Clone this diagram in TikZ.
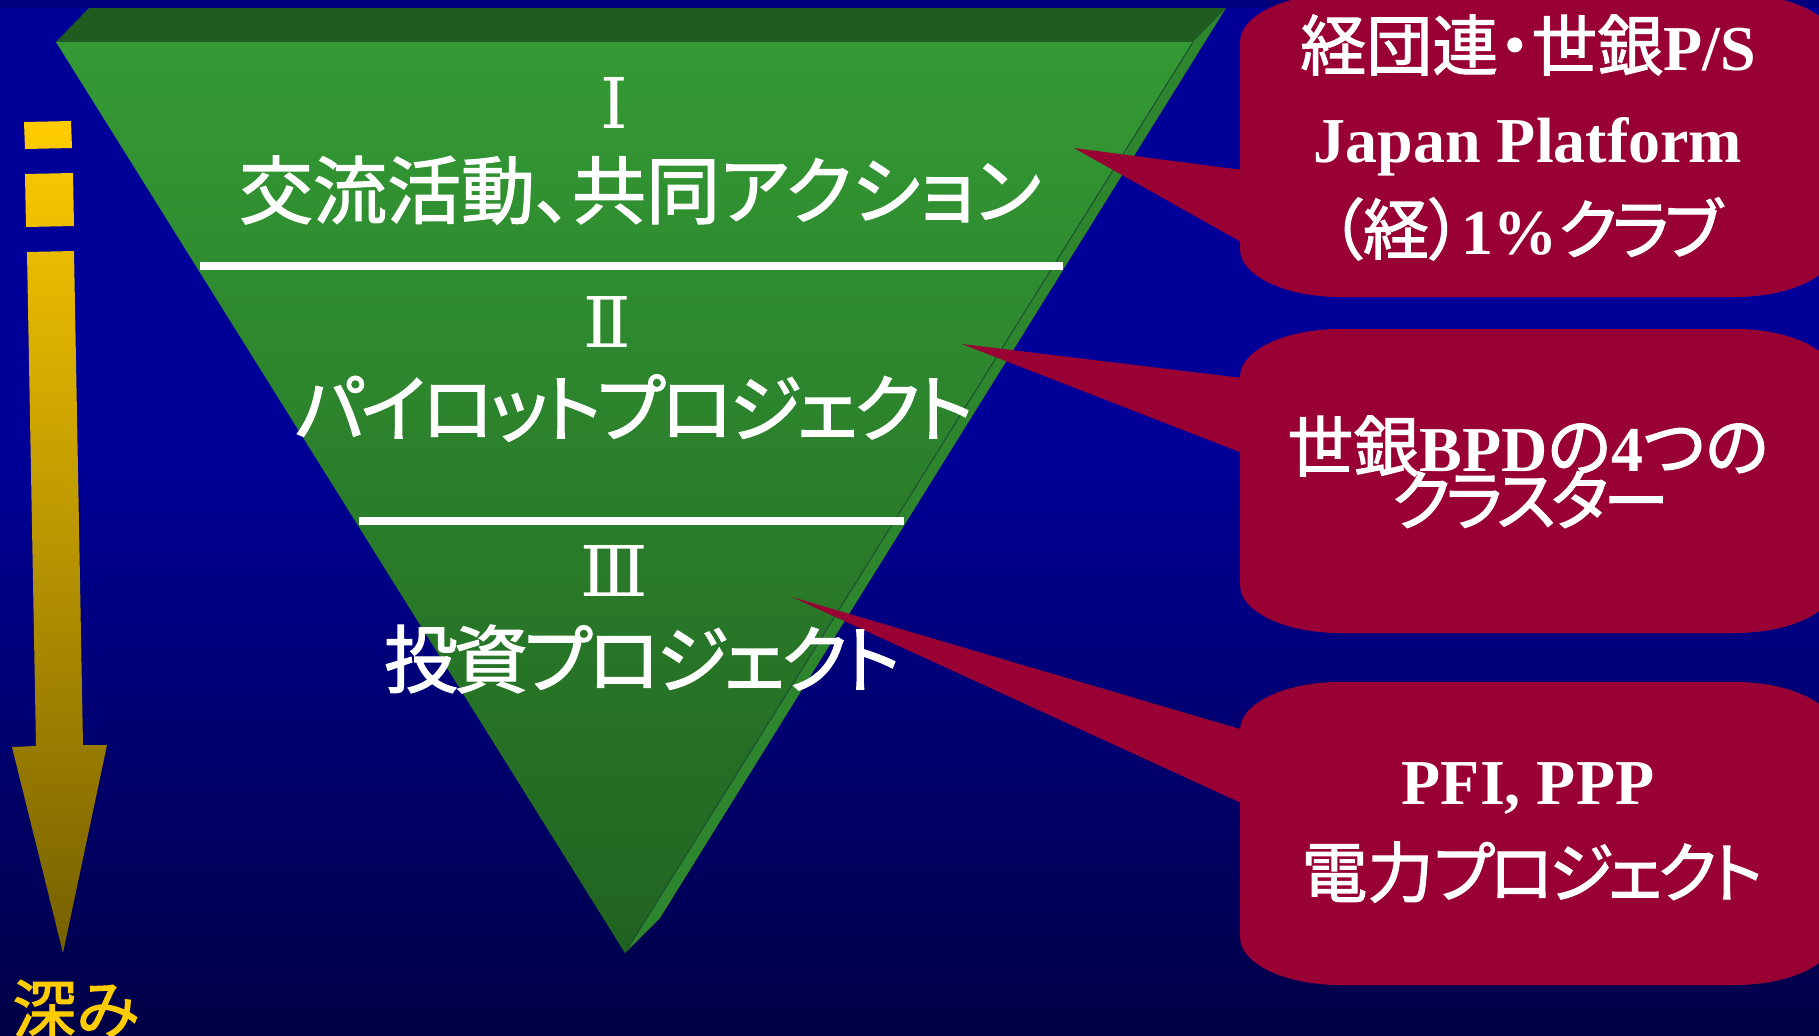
\documentclass[tikz,border=0pt]{standalone}
\usepackage{fontspec}
\setmainfont{Liberation Serif}
\newfontfamily\jp[RawFeature=+palt,FakeBold=1.6]{Noto Sans CJK JP}
\newfontfamily\rn{DejaVu Serif}
\definecolor{bgmid}{HTML}{000099}
\definecolor{bgbot}{HTML}{000046}
\definecolor{bgstrip}{HTML}{00007C}
\definecolor{gtop}{HTML}{349A34}
\definecolor{gbot}{HTML}{216321}
\definecolor{gside}{HTML}{2D852D}
\definecolor{gtopface}{HTML}{1F5C1F}
\definecolor{gedge}{HTML}{1C4F33}
\definecolor{crim}{HTML}{990033}
\definecolor{gold}{HTML}{FFCC00}
\definecolor{goldd}{HTML}{766000}
\newcommand\J[1]{{\jp\mdseries\fontsize{33}{33}\selectfont #1}}
\newcommand\JK[1]{{\jp\mdseries\fontsize{33}{33}\selectfont\addfontfeature{LetterSpace=-7.5}#1}}
\newcommand\K[1]{{\addfontfeature{LetterSpace=-5.5}#1}}
\newcommand\calloutbox[4]{% L T R B
  \fill[crim] (#1,#2+48) arc[start angle=180,end angle=270,x radius=100,y radius=48]
    -- (#3-100,#2) arc[start angle=270,end angle=360,x radius=100,y radius=48]
    -- (#3,#4-48) arc[start angle=0,end angle=90,x radius=100,y radius=48]
    -- (#1+100,#4) arc[start angle=90,end angle=180,x radius=100,y radius=48] -- cycle;}
\tikzset{
  tri/.style={text=white, inner sep=0pt, anchor=base, font=\jp\fontsize{37}{37}\selectfont},
  roman/.style={text=white, inner sep=0pt, anchor=base, font=\rn\fontsize{35}{35}\selectfont},
  boxt/.style={text=white, inner sep=0pt, anchor=base, font=\bfseries\fontsize{32}{32}\selectfont},
  sep/.style={white, line width=3.6pt},
  tail/.style={fill=crim}
}
\begin{document}
\begin{tikzpicture}[x=0.5pt,y=-0.5pt]
\useasboundingbox (0,0) rectangle (1819,1035);
% background
\fill[bgmid] (0,0) rectangle (1819,1035);
\shade[top color=bgmid, bottom color=bgbot] (0,440) rectangle (1819,1035);
\fill[bgstrip] (0,0) rectangle (1819,8);
% triangle
\fill[gtopface] (89,8) -- (1226,8) -- (1193,42) -- (56,42) -- cycle;
\fill[gside] (1193,42) -- (1226,8) -- (660,918) -- (625,953) -- cycle;
\shade[top color=gtop, bottom color=gbot] (56,42) -- (1193,42) -- (625,953) -- cycle;
\draw[gedge, line width=0.5pt] (1193,42) -- (625,953);
\draw[sep] (200,266) -- (1063,266);
\draw[sep] (359,521) -- (904,521);
% depth arrow
\shade[top color=gold, bottom color=goldd]
  (24,122) -- (71,121) -- (72,148) -- (25,149) -- cycle
  (25,174) -- (73,173) -- (74,226) -- (26,227) -- cycle
  (27,252) -- (74,251) -- (83,745) -- (107,745) -- (63,953) -- (12,747) -- (36,746) -- cycle;
\node[anchor=base west, inner sep=0pt, text=gold, font=\jp\fontsize{32}{32}\selectfont] (depth) at (12,1033) {深み};
% callouts
\coordinate (tip1) at (1074,148);
\coordinate (tip2) at (962,344);
\coordinate (tip3) at (792,597);
\fill[tail] (tip1) -- (1250,171) -- (1250,247) -- cycle;
\fill[tail] (tip2) -- (1250,379) -- (1250,456) -- cycle;
\fill[tail] (tip3) -- (1250,732) -- (1250,807) -- cycle;
\calloutbox{1240}{-6}{1835}{297}
\calloutbox{1240}{329}{1835}{633}
\calloutbox{1240}{682}{1835}{985}
% triangle texts
\node[roman] (n1) at (614,128) {Ⅰ};
\node[tri] (t1) at (640,218) {交流活動、共同アクション};
\node[roman] (n2) at (607,347) {Ⅱ};
\node[tri] (t2) at (634,436) {\K{パイロットプロジェクト}};
\node[roman] (n3) at (614,596) {Ⅲ};
\node[tri] (t3) at (642,687) {\K{投資プロジェクト}};
% box texts
\node[boxt] (b1a) at (1528,70) {\J{経団連・世銀}P/S};
\node[boxt] (b1b) at (1528,162) {Japan Platform};
\node[boxt] (b1c) at (1526,254) {\J{（経）}1\%\JK{クラブ}};
\node[boxt] (b2a) at (1528,471) {\J{世銀}BPD\J{の}4\J{つの}};
\node[boxt] (b2b) at (1530,525) {\JK{クラスター}};
\node[boxt] (b3a) at (1528,804) {PFI, PPP};
\node[boxt] (b3b) at (1532,897) {\J{電力}\JK{プロジェクト}};
\end{tikzpicture}
\end{document}
